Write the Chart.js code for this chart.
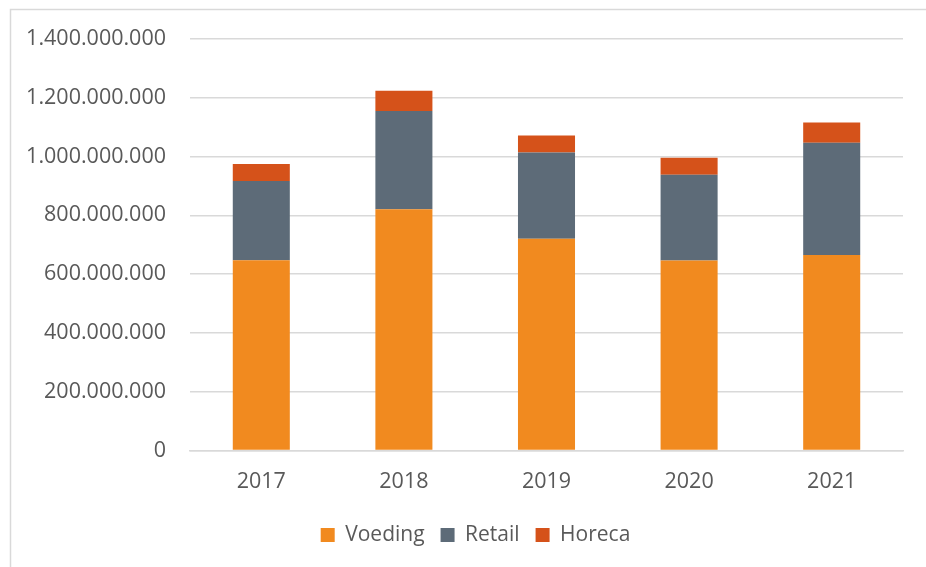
<!DOCTYPE html>
<html>
<head>
<meta charset="utf-8">
<script src="https://cdn.jsdelivr.net/npm/chart.js@4/dist/chart.umd.min.js"></script>
<style>
  html, body { margin: 0; padding: 0; background: #ffffff; }
  #wrap { width: 926px; height: 567px; }
</style>
</head>
<body>
<div id="wrap"><canvas id="c" width="926" height="567"></canvas></div>
<script>
const categories = ['2017', '2018', '2019', '2020', '2021'];
const voeding = [647000000, 821000000, 720000000, 646000000, 665000000];
const retail  = [270000000, 334000000, 294000000, 292000000, 382000000];
const horeca  = [58000000, 69000000, 58000000, 58000000, 69000000];
const yTicks = [0, 200000000, 400000000, 600000000, 800000000, 1000000000, 1200000000, 1400000000];

const textColor = '#595959';
const gridColor = '#D9D9D9';
const fontFamily = '"Open Sans", "Noto Sans", "Liberation Sans", sans-serif';

function fmt(v) {
  return String(Math.round(v)).replace(/\B(?=(\d{3})+(?!\d))/g, '.');
}

const frame = {
  id: 'frame',
  beforeDraw(chart) {
    const ctx = chart.ctx;
    ctx.save();
    ctx.fillStyle = '#ffffff';
    ctx.fillRect(0, 0, chart.width, chart.height);
    ctx.strokeStyle = gridColor;
    ctx.lineWidth = 1.5;
    ctx.strokeRect(10.5, 9.5, chart.width + 20, chart.height + 20);
    ctx.restore();
    // shift legend to the right to match reference centering
    if (chart.legend && !chart.legend._shifted) {
      chart.legend.left += 24;
      chart.legend.right += 24;
      chart.legend._shifted = true;
    }
  }
};

new Chart(document.getElementById('c'), {
  type: 'bar',
  data: {
    labels: categories,
    datasets: [
      { label: 'Voeding', data: voeding, backgroundColor: '#F18A1F', borderWidth: 0 },
      { label: 'Retail', data: retail, backgroundColor: '#5D6B78', borderWidth: 0 },
      { label: 'Horeca', data: horeca, backgroundColor: '#D5521A', borderWidth: 0 }
    ]
  },
  options: {
    responsive: false,
    animation: false,
    devicePixelRatio: 1,
    layout: { padding: { top: 39, right: 23, left: 0, bottom: 11.5 } },
    datasets: { bar: { categoryPercentage: 1.0, barPercentage: 0.4 } },
    plugins: {
      tooltip: { enabled: false },
      legend: {
        position: 'bottom',
        labels: {
          color: textColor,
          font: { family: fontFamily, size: 21 },
          boxWidth: 14,
          boxHeight: 14,
          padding: 16
        }
      }
    },
    scales: {
      x: {
        stacked: true,
        grid: { display: false, drawTicks: false },
        border: { display: true, color: gridColor, width: 1.5 },
        ticks: { color: textColor, font: { family: fontFamily, size: 21.5 }, padding: 18 },
        afterFit(scale) { scale.height = 58; }
      },
      y: {
        stacked: true,
        min: 0,
        max: 1400000000,
        afterBuildTicks(scale) { scale.ticks = yTicks.map(v => ({ value: v })); },
        grid: { color: gridColor, lineWidth: 1.5, drawTicks: false },
        border: { display: false },
        ticks: {
          color: textColor,
          font: { family: fontFamily, size: 21.5 },
          padding: 24,
          callback: (v) => fmt(v)
        },
        afterFit(scale) { scale.width = 190; }
      }
    }
  },
  plugins: [frame]
});
</script>
</body>
</html>
